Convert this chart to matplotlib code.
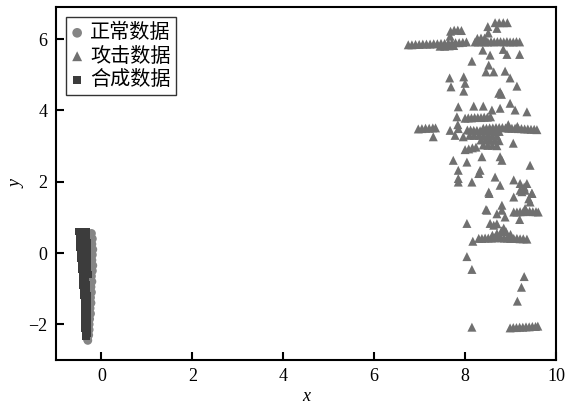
import matplotlib
matplotlib.use("Agg")
import matplotlib.pyplot as plt

plt.rcParams['font.family'] = ['Liberation Serif', 'Noto Sans CJK SC', 'DejaVu Sans']

# ---------------- data ----------------
labels = ["正常数据", "攻击数据", "合成数据"]

normal_x = [-0.22, -0.2, -0.21, -0.19, -0.2, -0.21, -0.19, -0.2, -0.22, -0.21, -0.23,
            -0.22, -0.24, -0.23, -0.25, -0.24, -0.26, -0.27, -0.27, -0.28, -0.3,
            -0.3, -0.31, -0.3, -0.29, -0.3, -0.29, -0.3, -0.29, -0.3, -0.3, -0.31]
normal_y = [0.55, 0.4, 0.25, 0.1, -0.05, -0.2, -0.35, -0.5, -0.65, -0.8, -0.95,
            -1.1, -1.25, -1.4, -1.55, -1.7, -1.85, -2.0, -2.15, -2.3, -2.45,
            0.5, 0.2, -0.1, -0.4, -0.7, -1.0, -1.3, -1.6, -1.9, -2.2, -2.4]

synth_x = [-0.5, -0.42, -0.34, -0.49, -0.41, -0.33, -0.48, -0.4, -0.32,
           -0.47, -0.39, -0.31, -0.46, -0.38, -0.31, -0.45, -0.37, -0.3,
           -0.44, -0.37, -0.3, -0.43, -0.36, -0.3, -0.42, -0.35, -0.29,
           -0.41, -0.35, -0.41, -0.34, -0.4, -0.33, -0.39, -0.32, -0.38, -0.32,
           -0.38, -0.31, -0.37, -0.31, -0.37, -0.31, -0.36, -0.31, -0.36, -0.31,
           -0.35, -0.31, -0.34,
           -0.46, -0.44, -0.42, -0.4, -0.38, -0.37, -0.36, -0.35, -0.34, -0.33]
synth_y = [0.6, 0.6, 0.6, 0.45, 0.45, 0.45, 0.3, 0.3, 0.3,
           0.15, 0.15, 0.15, 0.0, 0.0, 0.0, -0.15, -0.15, -0.15,
           -0.3, -0.3, -0.3, -0.45, -0.45, -0.45, -0.6, -0.6, -0.6,
           -0.75, -0.75, -0.9, -0.9, -1.05, -1.05, -1.2, -1.2, -1.35, -1.35,
           -1.5, -1.5, -1.65, -1.65, -1.8, -1.8, -1.95, -1.95, -2.1, -2.1,
           -2.25, -2.25, -2.35,
           0.52, 0.22, -0.08, -0.38, -0.68, -0.98, -1.28, -1.58, -1.88, -2.18]

attack_x = [
    # band near y=5.88
    6.75, 6.83, 6.91, 6.99, 7.07, 7.15, 7.23, 7.31, 7.39, 7.47, 7.55, 7.63, 7.71,
    7.79, 7.87, 7.95, 8.03, 7.45, 7.55, 7.65, 7.75,
    7.68, 7.76, 7.84, 7.92, 7.67,
    # band near y=5.92
    8.22, 8.29, 8.36, 8.43, 8.5, 8.57, 8.64, 8.71, 8.78, 8.85, 8.92, 8.99, 9.06,
    9.13, 9.2, 8.27, 8.35, 8.43,
    8.5, 8.51, 8.66, 8.75, 8.84, 8.93, 8.7,
    # scattered 4-5.7
    8.39, 8.55, 8.84, 8.92, 9.2, 8.15, 8.52, 8.46, 8.63, 8.88, 8.99, 9.14,
    7.66, 7.97, 7.69, 8.0, 7.97, 8.77, 8.8, 8.74,
    7.85, 8.19, 8.4, 8.59, 8.77, 8.99, 9.1, 9.36,
    # band near y=3.8
    8.0, 8.07, 8.14, 8.21, 8.28, 8.35, 8.42, 8.49, 8.56,
    7.82, 7.84, 7.67, 7.85, 7.3, 7.78, 7.96,
    # left band near 3.5
    6.97, 7.05, 7.13, 7.21, 7.29, 7.35,
    # band near 3.5
    8.4, 8.47, 8.54, 8.61, 8.68, 8.75, 8.82, 8.89, 8.96, 9.03, 9.1, 9.17, 9.24,
    9.31, 9.38, 9.45, 9.52, 9.58,
    # dense blob 3.0-3.6
    8.05, 8.12, 8.19, 8.26, 8.33, 8.4, 8.47, 8.54, 8.61, 8.68, 8.75,
    8.1, 8.2, 8.3, 8.4, 8.5, 8.6, 8.7,
    8.35, 8.45, 8.55, 8.65, 8.75,
    8.4, 8.5, 8.6, 8.7,
    8.0, 8.08, 8.16, 8.24,
    9.06, 8.95, 9.15,
    # 1.9-2.7
    7.74, 8.04, 8.37, 8.77, 8.81, 9.43,
    7.85, 7.85, 7.85, 8.15, 8.3, 8.33, 8.66, 8.77, 9.07, 9.21, 9.36,
    9.21, 9.32, 9.47, 9.3, 9.25,
    # 0.8-1.7
    8.52, 8.53, 9.07, 9.4, 9.47, 9.43, 9.32,
    9.07, 9.14, 9.21, 9.28, 9.35, 9.42, 9.49, 9.56, 9.61,
    8.81, 8.81, 8.46, 8.48, 8.7, 8.88, 9.2,
    8.04, 8.55, 8.7, 8.63,
    # band near 0.4
    8.3, 8.37, 8.44, 8.51, 8.58, 8.65, 8.72, 8.79, 8.86, 8.93, 9.0, 9.07, 9.14,
    9.21, 9.28, 9.36, 8.7, 8.8, 8.9, 9.0, 8.6, 8.85, 8.17,
    # low
    8.04, 8.15, 9.3, 9.24, 9.15, 8.15,
    # band near -2.08
    8.99, 9.06, 9.13, 9.2, 9.27, 9.34, 9.41, 9.48, 9.55, 9.6,
]
attack_y = [
    5.84, 5.84, 5.85, 5.85, 5.86, 5.86, 5.86, 5.87, 5.87, 5.88, 5.88, 5.89, 5.89,
    5.9, 5.9, 5.91, 5.92, 5.8, 5.8, 5.81, 5.82,
    6.22, 6.25, 6.25, 6.24, 6.08,
    5.92, 5.92, 5.93, 5.92, 5.92, 5.93, 5.92, 5.93, 5.93, 5.92, 5.93, 5.92, 5.92,
    5.93, 5.92, 6.02, 6.03, 6.03,
    6.35, 6.17, 6.46, 6.46, 6.46, 6.46, 6.3,
    5.69, 5.55, 5.71, 5.57, 5.57, 5.38, 5.27, 5.08, 5.08, 5.1, 4.91, 4.68,
    4.91, 4.94, 4.66, 4.76, 4.54, 4.52, 4.45, 4.48,
    4.1, 4.12, 4.12, 4.01, 4.06, 4.2, 4.01, 3.96,
    3.78, 3.79, 3.79, 3.8, 3.8, 3.8, 3.81, 3.81, 3.82,
    3.82, 3.6, 3.44, 3.49, 3.26, 3.3, 3.26,
    3.48, 3.49, 3.5, 3.5, 3.51, 3.51,
    3.5, 3.5, 3.51, 3.51, 3.52, 3.52, 3.52, 3.51, 3.5, 3.5, 3.5, 3.49, 3.49,
    3.48, 3.48, 3.47, 3.47, 3.46,
    3.45, 3.45, 3.44, 3.44, 3.43, 3.43, 3.42, 3.42, 3.42, 3.41, 3.41,
    3.3, 3.3, 3.3, 3.29, 3.29, 3.28, 3.28,
    3.17, 3.17, 3.16, 3.16, 3.15,
    3.03, 3.02, 3.02, 3.01,
    2.9, 2.92, 2.95, 2.97,
    3.08, 3.6, 3.55,
    2.6, 2.55, 2.7, 2.7, 2.6, 2.46,
    2.32, 2.09, 1.99, 1.99, 2.23, 2.32, 2.13, 1.9, 2.05, 1.95, 1.95,
    1.76, 1.76, 1.68, 1.85, 1.72,
    1.71, 1.67, 1.57, 1.52, 1.67, 1.43, 1.25,
    1.15, 1.15, 1.16, 1.16, 1.17, 1.17, 1.16, 1.16, 1.15,
    1.34, 1.2, 1.22, 1.2, 1.1, 1.01, 0.94,
    0.83, 0.83, 0.82, 0.78,
    0.41, 0.41, 0.42, 0.42, 0.42, 0.43, 0.43, 0.43, 0.42, 0.42, 0.41, 0.41, 0.41,
    0.4, 0.4, 0.39, 0.55, 0.62, 0.6, 0.52, 0.5, 0.7, 0.33,
    -0.1, -0.46, -0.66, -0.96, -1.35, -2.08,
    -2.1, -2.09, -2.09, -2.08, -2.08, -2.07, -2.07, -2.06, -2.06, -2.05,
]

# ---------------- figure ----------------
fig = plt.figure(figsize=(5.74, 4.04), dpi=100)
ax = fig.add_axes([56 / 574, 1 - 360 / 404, 500 / 574, 353 / 404])

ax.scatter(normal_x, normal_y, marker='o', s=40, color='#858585',
           edgecolors='none', label=labels[0], zorder=2)
ax.scatter(attack_x, attack_y, marker='^', s=42, color='#707070',
           edgecolors='none', label=labels[1], zorder=3)
ax.scatter(synth_x, synth_y, marker='s', s=28, color='#3c3c3c',
           edgecolors='none', label=labels[2], zorder=4)

ax.set_xlim(-1, 10)
ax.set_ylim(-3, 6.9)
ax.set_xticks([0, 2, 4, 6, 8, 10])
ax.set_yticks([-2, 0, 2, 4, 6])
ax.set_xticklabels(['0', '2', '4', '6', '8', '10'])
ax.set_yticklabels(['\u22122', '0', '2', '4', '6'])
ax.tick_params(direction='in', length=6, width=1.5, labelsize=13,
               top=False, right=False, pad=6)
for sp in ax.spines.values():
    sp.set_linewidth(1.5)

ax.set_xlabel('x', fontsize=13, style='italic', labelpad=2)
ax.set_ylabel('y', fontsize=13, style='italic', labelpad=2)

leg = ax.legend(loc='upper left', frameon=True, fancybox=False,
                edgecolor='black', handlelength=0.6, handletextpad=0.35,
                labelspacing=0.12, borderpad=0.25, borderaxespad=0.5,
                markerscale=1.1, prop={'family': ['Noto Sans CJK SC'], 'size': 14.5})
leg.get_frame().set_linewidth(1.0)

fig.savefig('out.png', dpi=100)
